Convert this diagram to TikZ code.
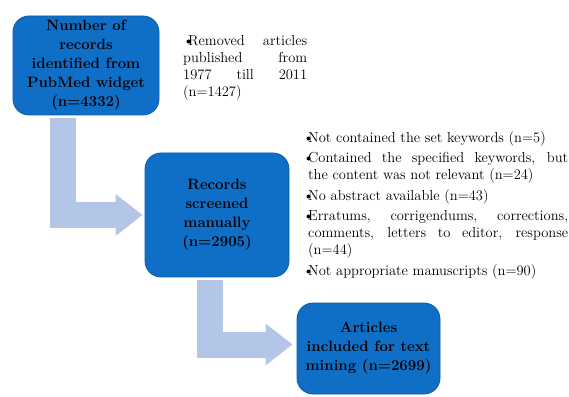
\documentclass[tikz,border=0pt]{standalone}
\usetikzlibrary{arrows.meta,positioning}
\definecolor{boxblue}{HTML}{0F6FC6}
\definecolor{boxedge}{HTML}{0B5BA6}
\definecolor{arrowblue}{HTML}{B4C6E7}
\newcommand{\bulletitem}[1]{\par\hangindent=5pt\hangafter=1\noindent\makebox[5pt][l]{\textbullet}#1}

\begin{document}
\begin{tikzpicture}[x=1pt, y=1pt,
    box node/.style={rectangle, rounded corners=16pt, draw=boxedge, line width=0.8pt,
                     fill=boxblue, align=center, inner sep=0pt,
                     font=\bfseries\fontsize{15}{19}\selectfont},
    note node/.style={anchor=north west, inner sep=0pt, align=justify,
                      font=\fontsize{14.5}{17}\selectfont},
    block arrow/.style={draw=arrowblue, line width=26pt,
                        -{Triangle[length=27pt, width=40pt]}}]

  \useasboundingbox (0,0) rectangle (569,396);

  % boxes
  \node[box node, minimum width=146pt, minimum height=99pt] (records) at (86,330.5)
    {Number of\\records\\identified from\\PubMed widget\\(n=4332)};
  \node[box node, minimum width=144pt, minimum height=124pt] (screened) at (217,181)
    {Records\\screened\\manually\\(n=2905)};
  \node[box node, minimum width=143pt, minimum height=91pt] (included) at (368.5,47.5)
    {Articles\\included for text\\mining (n=2699)};

  % notes
  \node[note node, text width=124pt] (removed) at (183,367.5)
    {\bulletitem{Removed articles\linebreak published from\linebreak 1977 till 2011\linebreak (n=1427)}};
  \node[note node, text width=265pt] (excluded) at (303,274.5)
    {\setlength{\parskip}{3.5pt}%
     \bulletitem{Not contained the set keywords (n=5)}
     \bulletitem{Contained the specified keywords, but\linebreak the content was not relevant (n=24)}
     \bulletitem{No abstract available (n=43)}
     \bulletitem{Erratums, corrigendums, corrections,\linebreak comments, letters to editor, response\linebreak (n=44)}
     \bulletitem{Not appropriate manuscripts (n=90)}};

  % arrows
  \draw[block arrow, shorten >=2pt] ([shift={(-23pt,-3pt)}]records.south) |- (screened.west);
  \draw[block arrow, shorten >=4pt] ([shift={(-7pt,-3pt)}]screened.south) |- ([yshift=4pt]included.west);
\end{tikzpicture}
\end{document}
